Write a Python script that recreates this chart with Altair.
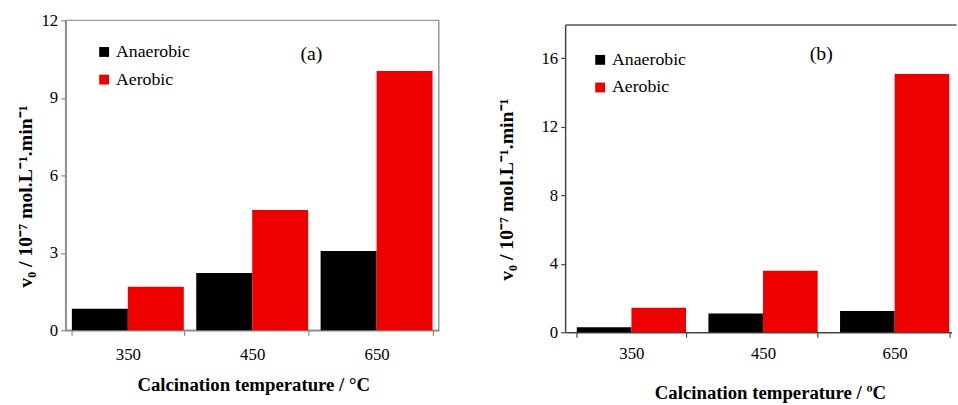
import altair as alt
import pandas as pd

temps = ["350", "450", "650"]
conditions = ["Anaerobic", "Aerobic"]
anaerobic_a = [0.84, 2.22, 3.07]
aerobic_a = [1.69, 4.66, 10.04]
anaerobic_b = [0.29, 1.10, 1.25]
aerobic_b = [1.44, 3.60, 15.08]
colors = ["#000000", "#EE0000"]
FONT = "Liberation Serif"


def make_df(an, ae):
    rows = []
    for t, a, b in zip(temps, an, ae):
        rows.append({"temp": t, "cond": "Anaerobic", "v": a})
        rows.append({"temp": t, "cond": "Aerobic", "v": b})
    return pd.DataFrame(rows)


df_a = make_df(anaerobic_a, aerobic_a)
df_b = make_df(anaerobic_b, aerobic_b)


def panel(df, ydomain, yvals, xscale, legend_xy, label, label_xy,
          ytitle, ytitle_xy, xtitle, xtitle_xy, xlabpad, axis_color, ydomain_line):
    bars = alt.Chart(df).mark_bar(strokeWidth=0).encode(
        x=alt.X("temp:N", sort=temps, scale=xscale,
                axis=alt.Axis(title=xtitle,
                              labelAngle=0, labelFont=FONT, labelFontSize=17,
                              labelColor="#000", tickBand="extent", tickSize=5,
                              tickColor=axis_color, domainColor=axis_color,
                              tickWidth=1.2, domainWidth=1.5, labelPadding=xlabpad,
                              titleFont=FONT, titleFontSize=19, titleFontWeight="bold",
                              titleColor="#000", titleX=xtitle_xy[0], titleY=xtitle_xy[1],
                              titleBaseline="middle", titleAlign="center")),
        xOffset=alt.XOffset("cond:N", sort=conditions,
                            scale=alt.Scale(paddingInner=0, paddingOuter=0)),
        y=alt.Y("v:Q", scale=alt.Scale(domain=ydomain, nice=False),
                axis=alt.Axis(values=yvals, grid=False, title=ytitle,
                              domain=ydomain_line,
                              labelFont=FONT, labelFontSize=17, labelColor="#000",
                              tickSize=5, tickColor=axis_color, domainColor=axis_color,
                              tickWidth=1.2, domainWidth=1.5, labelPadding=3,
                              titleFont=FONT, titleFontSize=20, titleFontWeight="bold",
                              titleColor="#000", titleX=ytitle_xy[0], titleY=ytitle_xy[1],
                              titleAngle=270, titleBaseline="middle", titleAlign="center")),
        color=alt.Color("cond:N", sort=conditions,
                        scale=alt.Scale(domain=conditions, range=colors),
                        legend=alt.Legend(title=None, orient="none",
                                          legendX=legend_xy[0], legendY=legend_xy[1],
                                          symbolType="square", symbolSize=100,
                                          symbolStrokeWidth=0, labelFont=FONT,
                                          labelFontSize=18, labelColor="#000",
                                          rowPadding=10, labelOffset=3, padding=0)),
    )
    lab = alt.Chart(pd.DataFrame({"t": [label]})).mark_text(
        font=FONT, fontSize=20, color="#000", align="center", baseline="middle"
    ).encode(x=alt.value(label_xy[0]), y=alt.value(label_xy[1]), text="t:N")
    return [bars, lab]


# ---- panel (a)
W_A, H_A = 378, 314
left_layers = panel(df_a, [0, 12], [0, 3, 6, 9, 12],
                    alt.Scale(paddingInner=0.1, paddingOuter=0.05),
                    (30, 23), "(a)", (249, 34),
                    "v\u2080  / 10\u207b\u2077 mol.L\u207b\u00b9.min\u207b\u00b9", (-41, 178),
                    "Calcination temperature / \u00b0C", (190, 55), 12,
                    "#8a8a8a", True)
left = alt.layer(*left_layers).properties(
    width=W_A, height=H_A,
    view=alt.ViewBackground(stroke="#9a9a9a", strokeWidth=1.5),
)

# ---- panel (b): frame starts a few px below the shared top
W_B, H_B = 391, 316
FRAME_TOP = 4.7
frame_df = pd.DataFrame({"f": [0]})
frame_top = alt.Chart(frame_df).mark_rule(color="#555555", strokeWidth=1.5).encode(
    x=alt.value(0), x2=alt.value(W_B + 5), y=alt.value(FRAME_TOP))
frame_left = alt.Chart(frame_df).mark_rule(color="#444444", strokeWidth=1.5).encode(
    x=alt.value(0), y=alt.value(FRAME_TOP), y2=alt.value(H_B))

right_layers = panel(df_b, [0, 18.21], [0, 4, 8, 12, 16],
                     alt.Scale(paddingInner=0.17, paddingOuter=0.05125, align=0.829),
                     (26, 31), "(b)", (259, 34),
                     "v\u2080 / 10\u207b\u2077 mol.L\u207b\u00b9.min\u207b\u00b9", (-60, 171),
                     "Calcination temperature / \u00baC", (207, 61), 9,
                     "#444444", False)
right = alt.layer(*right_layers, frame_top, frame_left).properties(
    width=W_B, height=H_B,
    view=alt.ViewBackground(stroke=None),
)

chart = alt.hconcat(left, right, spacing=57.5).resolve_scale(
    color="independent", y="independent", x="independent", xOffset="independent"
).resolve_legend(color="independent").properties(
    padding={"left": 14.5, "top": 8, "right": 0, "bottom": 0}
).configure_view(stroke=None)

chart.save("out.html", embed_options={"renderer": "svg", "actions": False})
